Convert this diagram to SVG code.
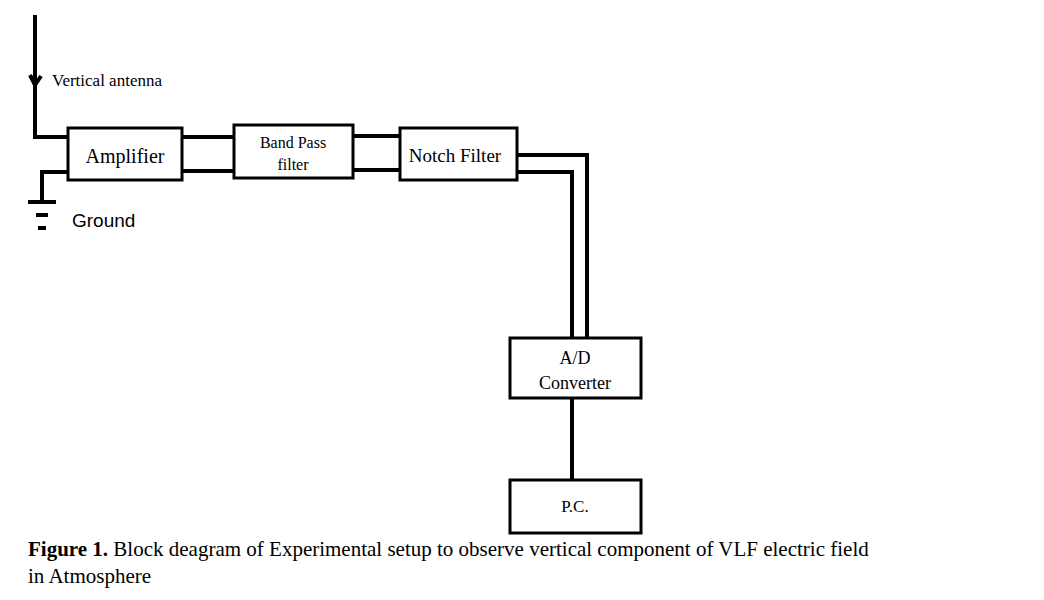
<svg xmlns="http://www.w3.org/2000/svg" width="1044" height="600" viewBox="0 0 1044 600">
<style>
.box{fill:#fff;stroke:#000;stroke-width:3}
.w{fill:none;stroke:#000;stroke-width:4}
.t{font-family:"Liberation Serif",serif;fill:#000}
</style>
<rect width="1044" height="600" fill="#fff"/>
<g id="connectors">
<path class="w" d="M35,15 V137 H68"/>
<path class="w" d="M68,172 H42 V202"/>
<path class="w" d="M28,202 H56 M36,215 H48 M38,228 H46"/>
<path class="w" d="M30,75 L35,85 L41,76"/>
<path class="w" d="M182,137 H234 M182,171 H234"/>
<path class="w" d="M353,136 H400 M353,170 H400"/>
<path class="w" d="M517,155 H587 V338 M517,172 H572 V338"/>
<path class="w" d="M572,398 V480"/>
</g>
<g id="amplifier"><rect class="box" x="68" y="128" width="114" height="52"/><text class="t" x="125" y="163" font-size="20" text-anchor="middle">Amplifier</text></g>
<g id="bandpass"><rect class="box" x="234" y="125" width="119" height="53"/><text class="t" x="293" y="148" font-size="16" text-anchor="middle">Band Pass</text><text class="t" x="293" y="170" font-size="16" text-anchor="middle">filter</text></g>
<g id="notch"><rect class="box" x="400" y="128" width="117" height="52"/><text class="t" x="455" y="162" font-size="19" text-anchor="middle">Notch Filter</text></g>
<g id="ad"><rect class="box" x="510" y="338" width="131" height="60"/><text class="t" x="575" y="364" font-size="18" text-anchor="middle">A/D</text><text class="t" x="575" y="389" font-size="18" text-anchor="middle">Converter</text></g>
<g id="pc"><rect class="box" x="510" y="480" width="131" height="53"/><text class="t" x="575" y="512" font-size="17" text-anchor="middle">P.C.</text></g>
<text class="t" x="52" y="86" font-size="17">Vertical antenna</text>
<text x="72" y="227" font-size="19" font-family="'Liberation Sans',sans-serif">Ground</text>
<text class="t" x="28" y="556" font-size="21"><tspan font-weight="bold">Figure 1.</tspan> Block deagram of Experimental setup to observe vertical component of VLF electric field</text>
<text class="t" x="28" y="583" font-size="21">in Atmosphere</text>
</svg>
